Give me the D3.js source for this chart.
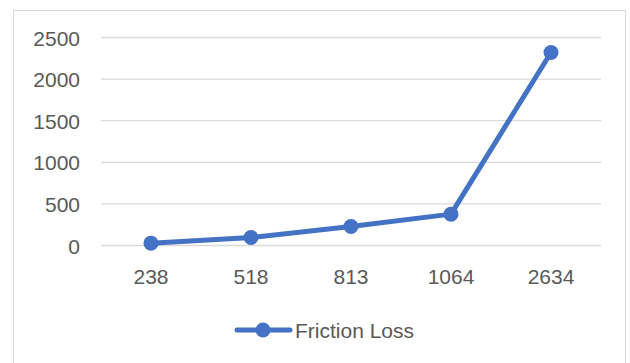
<!DOCTYPE html>
<html>
<head>
<meta charset="utf-8">
<script src="https://cdn.jsdelivr.net/npm/d3@7"></script>
<style>
  html, body { margin: 0; padding: 0; background: #fff; }
  svg { display: block; }
</style>
</head>
<body>
<svg id="chart" width="630" height="363"></svg>
<script>
// Pipe lengths (categories) and friction loss values
const categories = ["238", "518", "813", "1064", "2634"];
const frictionLoss = [28, 96, 228, 377, 2320];
const yTicks = [0, 500, 1000, 1500, 2000, 2500];
const seriesName = "Friction Loss";

const W = 630, H = 363;
const plot = { left: 101, right: 601, top: 37.5, bottom: 245.5 };
const fontFamily = "'Liberation Sans', Arial, sans-serif";
const fontSize = 21;
const textColor = "#595959";
const lineColor = "#4472C4";

const svg = d3.select("#chart");

// chart area border
svg.append("rect")
  .attr("x", 13.5).attr("y", 10.5)
  .attr("width", 612).attr("height", 370)
  .attr("fill", "#fff")
  .attr("stroke", "#d9d9d9")
  .attr("stroke-width", 1);

const x = d3.scaleBand()
  .domain(categories)
  .range([plot.left, plot.right])
  .paddingInner(0).paddingOuter(0);

const y = d3.scaleLinear()
  .domain([0, 2500])
  .range([plot.bottom, plot.top]);

// horizontal gridlines
svg.append("g")
  .selectAll("line")
  .data(yTicks)
  .join("line")
  .attr("x1", plot.left).attr("x2", plot.right)
  .attr("y1", d => y(d)).attr("y2", d => y(d))
  .attr("stroke", "#d9d9d9")
  .attr("stroke-width", 1.3);

// y axis labels
const yAxis = d3.axisLeft(y).tickValues(yTicks).tickFormat(d3.format("d")).tickSize(0).tickPadding(0);
const gy = svg.append("g")
  .attr("transform", `translate(80,0)`)
  .call(yAxis);
gy.select(".domain").remove();
gy.selectAll("text")
  .attr("fill", textColor)
  .attr("font-family", fontFamily)
  .attr("font-size", fontSize)
  .attr("dy", "0.36em");

// x axis labels
const xAxis = d3.axisBottom(x).tickSize(0).tickPadding(0);
const gx = svg.append("g")
  .attr("transform", `translate(0,268)`)
  .call(xAxis);
gx.select(".domain").remove();
gx.selectAll("text")
  .attr("fill", textColor)
  .attr("font-family", fontFamily)
  .attr("font-size", fontSize)
  .attr("dy", "0.74em");

// series line and markers
const pts = categories.map((c, i) => ({ c, v: frictionLoss[i] }));
const line = d3.line()
  .x(d => x(d.c) + x.bandwidth() / 2)
  .y(d => y(d.v));

svg.append("path")
  .datum(pts)
  .attr("d", line)
  .attr("fill", "none")
  .attr("stroke", lineColor)
  .attr("stroke-width", 5)
  .attr("stroke-linejoin", "round")
  .attr("stroke-linecap", "round");

svg.append("g")
  .selectAll("circle")
  .data(pts)
  .join("circle")
  .attr("cx", d => x(d.c) + x.bandwidth() / 2)
  .attr("cy", d => y(d.v))
  .attr("r", 7.5)
  .attr("fill", lineColor);

// legend
const lg = svg.append("g").attr("transform", "translate(0,330)");
lg.append("line")
  .attr("x1", 237).attr("x2", 290)
  .attr("y1", 0).attr("y2", 0)
  .attr("stroke", lineColor)
  .attr("stroke-width", 5)
  .attr("stroke-linecap", "round");
lg.append("circle")
  .attr("cx", 263).attr("cy", 0).attr("r", 7.5)
  .attr("fill", lineColor);
lg.append("text")
  .attr("x", 295).attr("y", 0)
  .attr("dy", "0.36em")
  .attr("fill", textColor)
  .attr("font-family", fontFamily)
  .attr("font-size", fontSize)
  .text(seriesName);
</script>
</body>
</html>
